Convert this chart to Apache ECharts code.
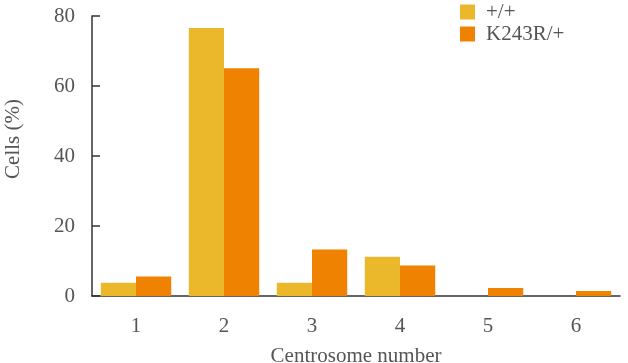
<!DOCTYPE html>
<html>
<head>
<meta charset="utf-8">
<script src="https://cdn.jsdelivr.net/npm/echarts@6/dist/echarts.min.js"></script>
<style>
  html, body { margin: 0; padding: 0; background: #fff; }
  #chart { width: 628px; height: 363px; }
</style>
</head>
<body>
<div id="chart"></div>
<script>
// centrosome counts per cell
const categories = ['1', '2', '3', '4', '5', '6'];
const wildType = [3.8, 76.6, 3.8, 11.2, 0, 0];      // +/+
const mutant = [5.6, 65.1, 13.3, 8.7, 2.3, 1.4];    // K243R/+
const yTicks = [0, 20, 40, 60, 80];

const serif = '"Liberation Serif", "DejaVu Serif", serif';
const textGray = '#555';

const myChart = echarts.init(document.getElementById('chart'));

const option = {
    backgroundColor: '#ffffff',
    animation: false,
    textStyle: { fontFamily: serif },
    legend: {
        orient: 'vertical',
        left: 455,
        top: -4,
        itemWidth: 15,
        itemHeight: 15,
        itemGap: 0,
        icon: 'rect',
        textStyle: { fontFamily: serif, fontSize: 21, lineHeight: 22, color: textGray, padding: [0, 0, 0, 6] },
        data: ['+/+', 'K243R/+']
    },
    grid: {
        left: 92,
        right: 8,
        top: 16,
        bottom: 67,
        outerBoundsMode: 'none'
    },
    xAxis: {
        type: 'category',
        data: categories,
        name: 'Centrosome number',
        nameLocation: 'middle',
        nameGap: 50,
        nameTextStyle: { fontFamily: serif, fontSize: 21, color: textGray },
        axisLine: { lineStyle: { color: '#333', width: 1.5 } },
        axisTick: { show: false },
        axisLabel: { fontFamily: serif, fontSize: 21, color: textGray, margin: 20 }
    },
    yAxis: {
        type: 'value',
        min: yTicks[0],
        max: yTicks[yTicks.length - 1],
        interval: 20,
        name: 'Cells (%)',
        nameLocation: 'middle',
        nameGap: 68,
        nameTextStyle: { fontFamily: serif, fontSize: 21, color: textGray, padding: [0, 0, 0, 34] },
        splitLine: { show: false },
        axisLine: { show: true, lineStyle: { color: '#333', width: 1.5 } },
        axisTick: { show: true, inside: true, length: 8, lineStyle: { color: '#333', width: 1.5 } },
        axisLabel: { fontFamily: serif, fontSize: 21, color: textGray, margin: 17 }
    },
    series: [{
        name: '+/+',
        type: 'bar',
        data: wildType,
        barGap: '0%',
        barCategoryGap: '20%',
        itemStyle: { color: '#ebb82c' }
    }, {
        name: 'K243R/+',
        type: 'bar',
        data: mutant,
        barGap: '0%',
        barCategoryGap: '20%',
        itemStyle: { color: '#ef8200' }
    }]
};

myChart.setOption(option);
window.addEventListener('resize', () => myChart.resize());
</script>
</body>
</html>
